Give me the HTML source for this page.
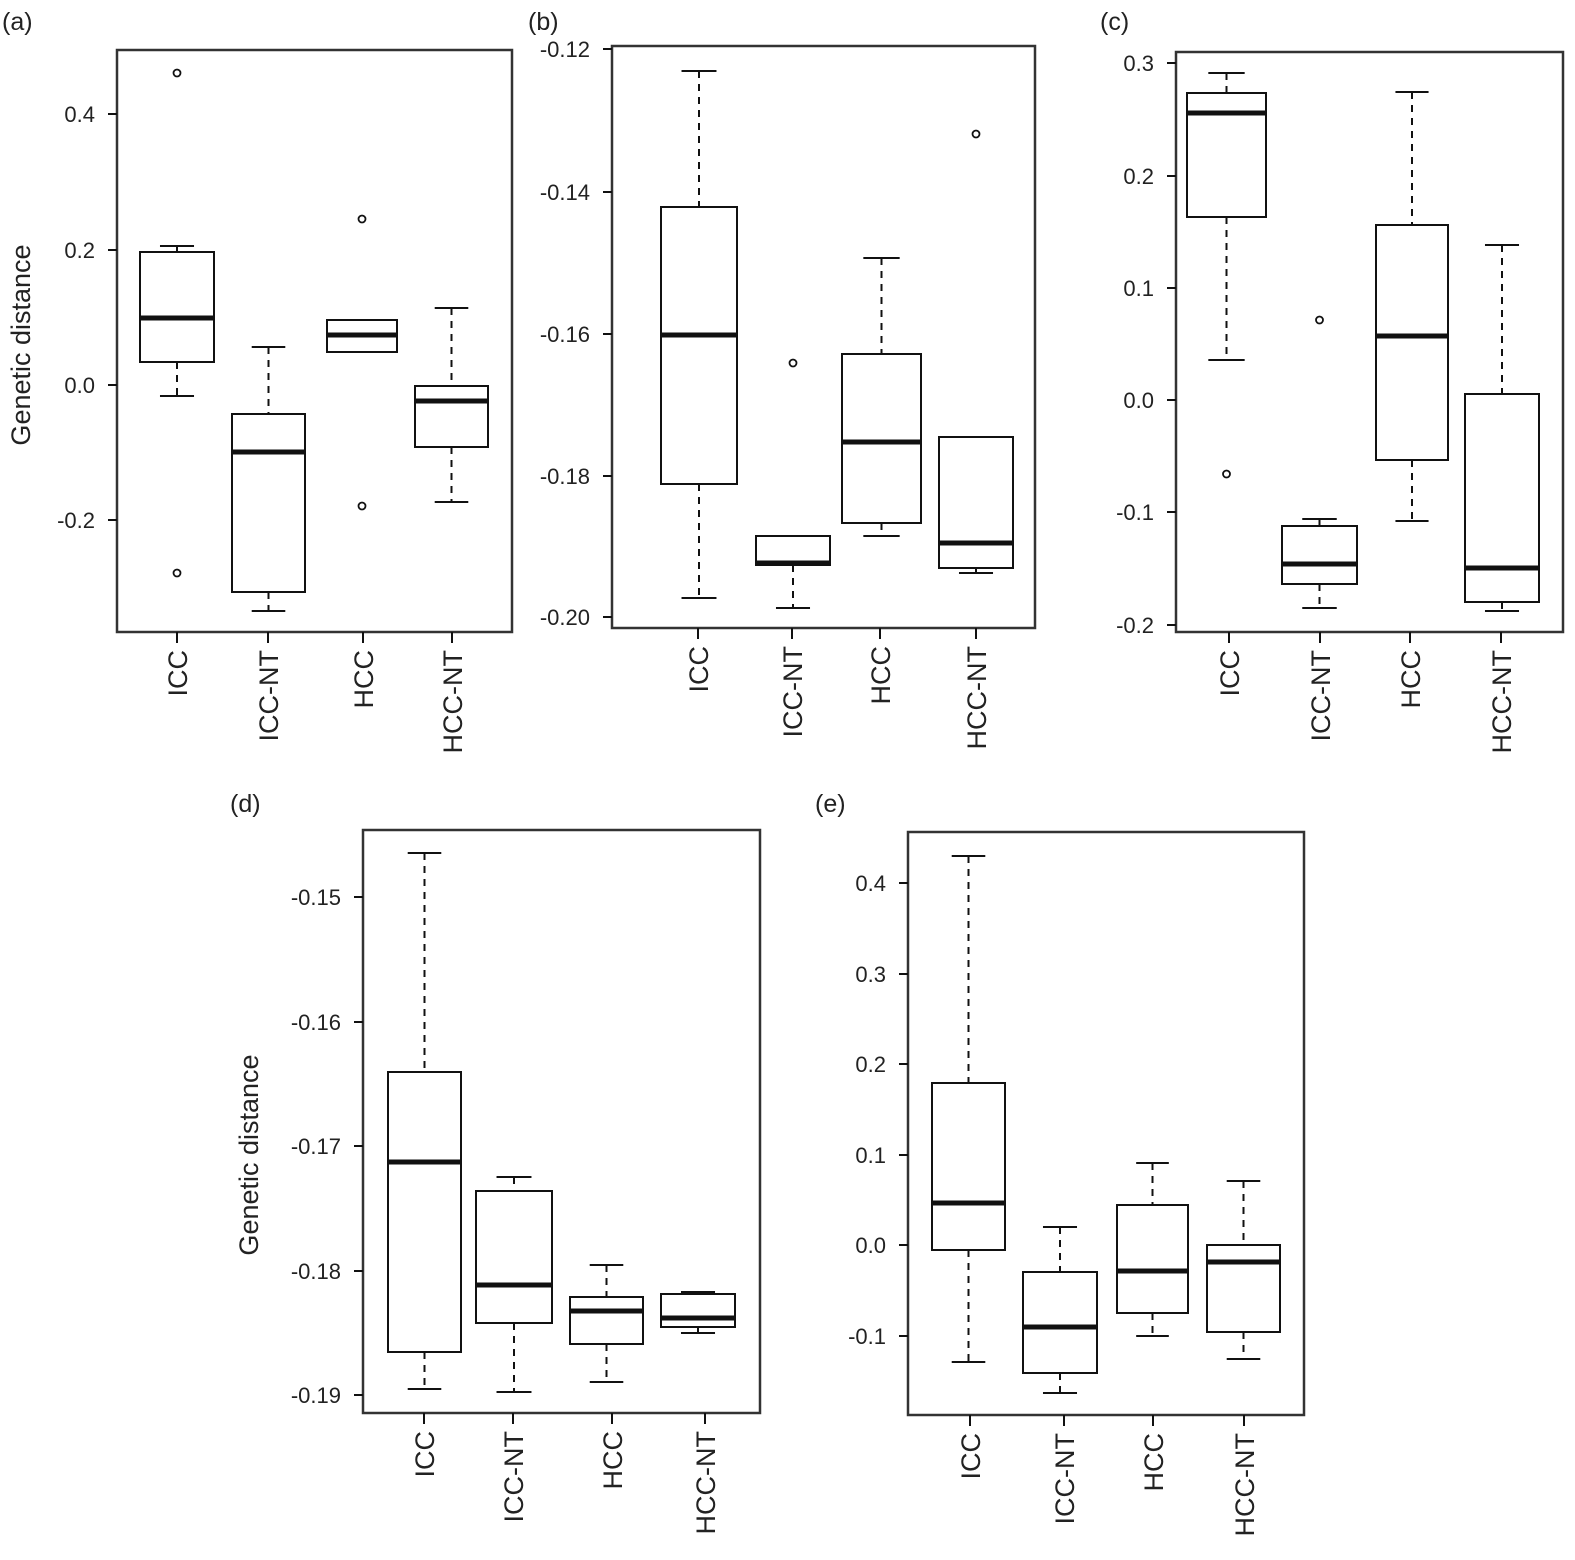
<!DOCTYPE html>
<html><head><meta charset="utf-8"><style>
html,body{margin:0;padding:0;background:#fff;}
svg{display:block;}
text{font-family:"Liberation Sans",sans-serif;fill:#222;}
</style></head><body>
<svg id="s" width="1575" height="1560" xmlns="http://www.w3.org/2000/svg"></svg>
<script>
const s=document.getElementById('s');let h='';
const L=(x1,y1,x2,y2,w,d)=>h+=`<line x1="${x1}" y1="${y1}" x2="${x2}" y2="${y2}" stroke="#111" stroke-width="${w||2}" ${d?'stroke-dasharray="7,6"':''}/>`;
const T=(x,y,t,sz,anc,rot)=>h+=`<text x="${x}" y="${y}" font-size="${sz}" text-anchor="${anc||'start'}" ${rot?`transform="rotate(-90 ${x} ${y})"`:''}>${t}</text>`;
const names=['ICC','ICC-NT','HCC','HCC-NT'];
function panel(p){
 const [x0,y0,x1,y1]=p.f;
 h+=`<rect x="${x0}" y="${y0}" width="${x1-x0}" height="${y1-y0}" fill="none" stroke="#333" stroke-width="2.5"/>`;
 p.ticks.forEach(([lab,y])=>{L(x0-9,y,x0,y);T(x0-22,y+8,lab,22,'end');});
 p.cx.forEach((cx,i)=>{L(cx,y1,cx,y1+11);T(cx+10,y1+18,names[i],27,'end',true);});
 p.b.forEach(([bx0,bx1,q3,q1,md,top,bot,...outs])=>{
  const cx=(bx0+bx1)/2,cw=(bx1-bx0)*0.23;
  if(top<q3){L(cx,top,cx,q3,2,1);L(cx-cw,top,cx+cw,top);}
  if(bot>q1){L(cx,q1,cx,bot,2,1);L(cx-cw,bot,cx+cw,bot);}
  h+=`<rect x="${bx0}" y="${q3}" width="${bx1-bx0}" height="${q1-q3}" fill="none" stroke="#111" stroke-width="2"/>`;
  L(bx0,md,bx1,md,5);
  outs.forEach(o=>h+=`<circle cx="${cx}" cy="${o}" r="3.5" fill="none" stroke="#111" stroke-width="1.8"/>`);
 });
}
panel({f:[117,50,512,632],ticks:[['0.4',114],['0.2',250],['0.0',385],['-0.2',520]],cx:[177,268,363,452],
 b:[[140,214,252,362,318,246,396,73,573],[232,305,414,592,452,347,611],[327,397,320,352,335,320,352,219,506],[415,488,386,447,401,308,502]]});
panel({f:[612,46,1035,628],ticks:[['-0.12',49],['-0.14',192],['-0.16',334],['-0.18',476],['-0.20',617]],cx:[698,792,880,976],
 b:[[661,737,207,484,335,71,598],[756,830,536,565,563,536,608,363],[842,921,354,523,442,258,536],[939,1013,437,568,543,437,573,134]]});
panel({f:[1176,52,1563,632],ticks:[['0.3',63],['0.2',176],['0.1',288],['0.0',400],['-0.1',512],['-0.2',625]],cx:[1229,1320,1410,1501],
 b:[[1187,1266,93,217,113,73,360,474],[1282,1357,526,584,564,519,608,320],[1376,1448,225,460,336,92,521],[1465,1539,394,602,568,245,611]]});
panel({f:[363,830,760,1413],ticks:[['-0.15',897],['-0.16',1022],['-0.17',1146],['-0.18',1271],['-0.19',1395]],cx:[424,513,612,705],
 b:[[388,461,1072,1352,1162,853,1389],[476,552,1191,1323,1285,1177,1392],[570,643,1297,1344,1311,1265,1382],[661,735,1294,1327,1318,1292,1333]]});
panel({f:[908,832,1304,1415],ticks:[['0.4',883],['0.3',974],['0.2',1064],['0.1',1155],['0.0',1245],['-0.1',1336]],cx:[970,1064,1153,1244],
 b:[[932,1005,1083,1250,1203,856,1362],[1023,1097,1272,1373,1327,1227,1393],[1117,1188,1205,1313,1271,1163,1336],[1207,1280,1245,1332,1262,1181,1359]]});
T(30,345,'Genetic distance',27,'middle',true);
T(258,1155,'Genetic distance',27,'middle',true);
T(2,30,'(a)',25);T(528,30,'(b)',25);T(1100,30,'(c)',25);T(230,812,'(d)',25);T(815,812,'(e)',25);
s.innerHTML=h;
</script>
</body></html>
